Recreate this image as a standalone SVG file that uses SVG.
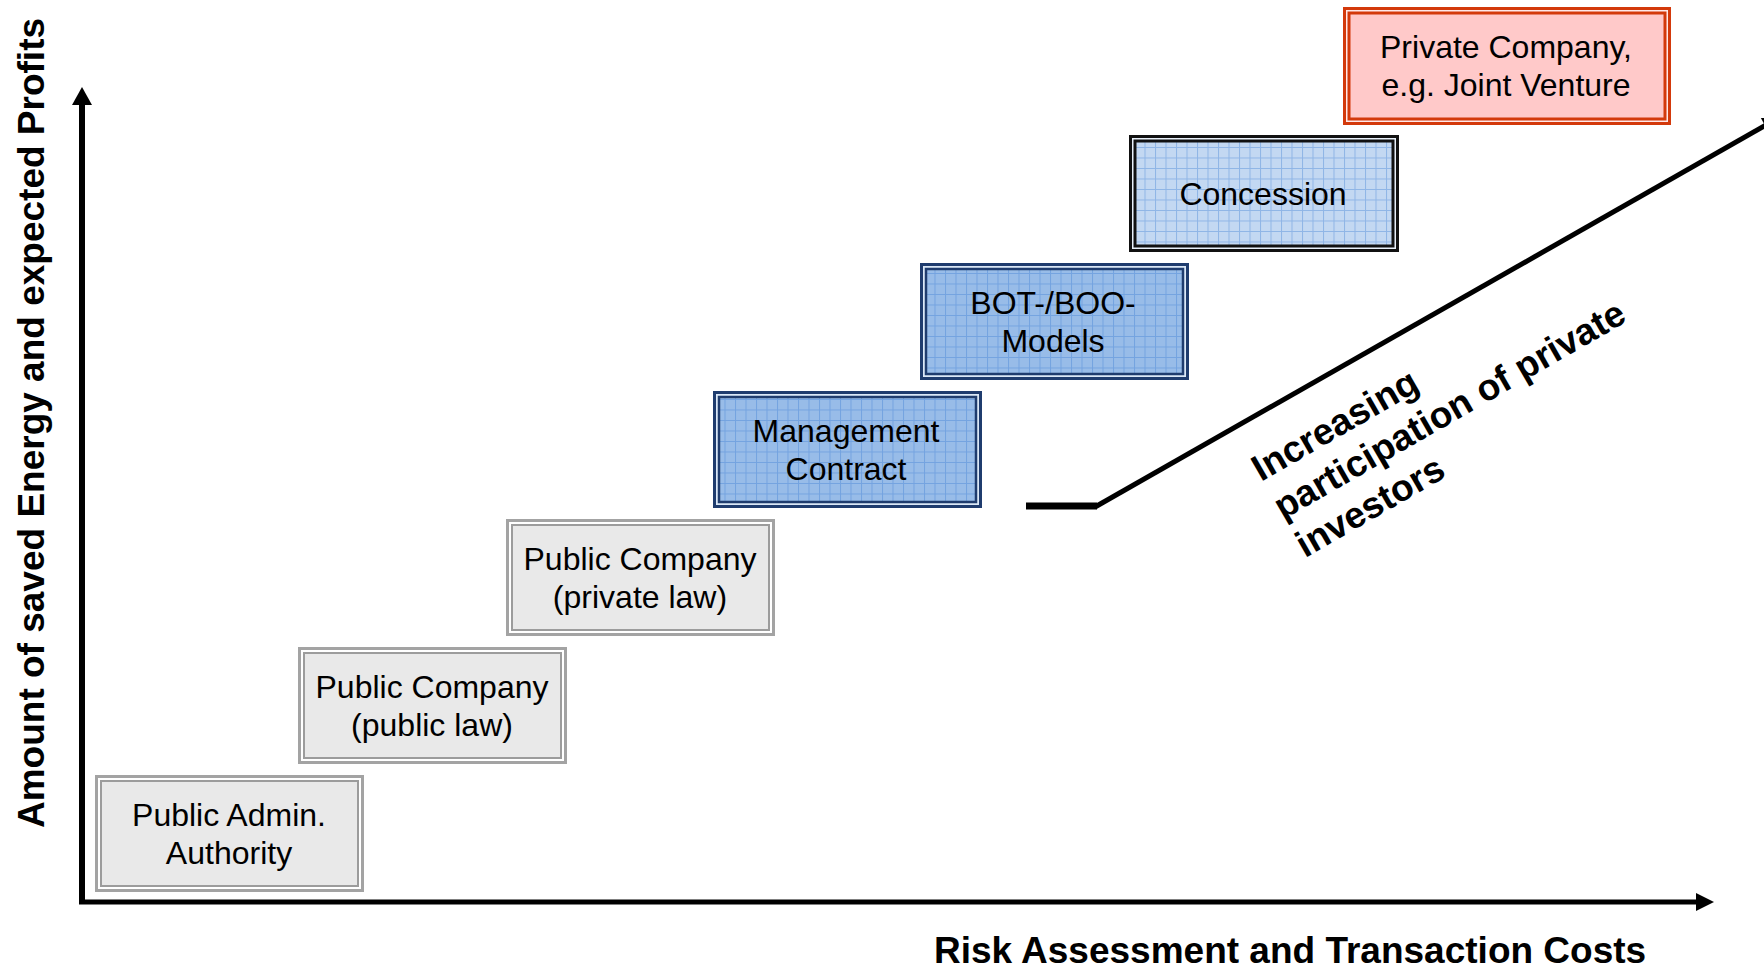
<svg xmlns="http://www.w3.org/2000/svg" width="1764" height="969" viewBox="0 0 1764 969">
<style>
  text { font-family: "Liberation Sans", Arial, sans-serif; fill: #000; }
  .bt { font-size: 32px; text-anchor: middle; }
  .lab { font-size: 37px; font-weight: bold; }
  .gap { fill: #ffffff; stroke-width: 3; }
  .gray .gap { stroke: #a3a3a3; }
  .gray .in { fill: #e9e9e9; stroke: #9c9c9c; stroke-width: 2; }
  .navy .gap { stroke: #1f3c6e; fill: #dbe8f7; }
  .navy .in { fill: url(#gridB); stroke: #1f3c6e; stroke-width: 2.5; }
  .blk .gap { stroke: #111; fill: #e8f0fa; }
  .blk .in { fill: url(#gridC); stroke: #111; stroke-width: 3; }
  .red .gap { stroke: #d3390b; fill: #ffe8e8; }
  .red .in { fill: #ffc9c9; stroke: #d3390b; stroke-width: 3; }
</style>
<defs>
  <pattern id="gridB" width="10.5" height="10.5" patternUnits="userSpaceOnUse">
    <rect width="10.5" height="10.5" fill="#98bce8"/>
    <path d="M0 0.5H10.5M0.5 0V10.5" stroke="#74a3e0" stroke-width="1"/>
  </pattern>
  <pattern id="gridC" width="10.5" height="10.5" patternUnits="userSpaceOnUse">
    <rect width="10.5" height="10.5" fill="#c3d8f2"/>
    <path d="M0 0.5H10.5M0.5 0V10.5" stroke="#8fb5e6" stroke-width="1"/>
  </pattern>
</defs>

<g id="connectors">
  <line x1="82" y1="902" x2="82" y2="100" stroke="#000" stroke-width="6"/>
  <polygon points="82,87 72,105 92,105" fill="#000"/>
  <line x1="79" y1="902" x2="1700" y2="902" stroke="#000" stroke-width="5"/>
  <polygon points="1714,902 1696,893 1696,911" fill="#000"/>
  <line x1="1026" y1="506" x2="1097" y2="506" stroke="#000" stroke-width="7"/>
  <line x1="1095" y1="507" x2="1766" y2="125" stroke="#000" stroke-width="5"/>
  <polygon points="1781,116.5 1760.6,117.6 1769.4,133.2" fill="#000"/>
</g>

<g id="axis-y-label">
  <text class="lab" transform="translate(44,423) rotate(-90)" text-anchor="middle">Amount of saved Energy and expected Profits</text>
</g>
<g id="axis-x-label">
  <text class="lab" x="934" y="963">Risk Assessment and Transaction Costs</text>
</g>

<g id="node-public-admin" class="gray">
  <rect class="gap" x="96.5" y="776.5" width="266" height="114"/>
  <rect class="in" x="101" y="781" width="257" height="105"/>
  <text class="bt" x="229" y="826">Public Admin.</text>
  <text class="bt" x="229" y="864">Authority</text>
</g>
<g id="node-public-company-public" class="gray">
  <rect class="gap" x="299.5" y="648.5" width="266" height="114"/>
  <rect class="in" x="304" y="653" width="257" height="105"/>
  <text class="bt" x="432" y="698">Public Company</text>
  <text class="bt" x="432" y="736">(public law)</text>
</g>
<g id="node-public-company-private" class="gray">
  <rect class="gap" x="507.5" y="520.5" width="266" height="114"/>
  <rect class="in" x="512" y="525" width="257" height="105"/>
  <text class="bt" x="640" y="570">Public Company</text>
  <text class="bt" x="640" y="608">(private law)</text>
</g>
<g id="node-management" class="navy">
  <rect class="gap" x="714.5" y="392.5" width="266" height="114"/>
  <rect class="in" x="719" y="397" width="257" height="105"/>
  <text class="bt" x="846" y="442">Management</text>
  <text class="bt" x="846" y="480">Contract</text>
</g>
<g id="node-bot-boo" class="navy">
  <rect class="gap" x="921.5" y="264.5" width="266" height="114"/>
  <rect class="in" x="926" y="269" width="257" height="105"/>
  <text class="bt" x="1053" y="314">BOT-/BOO-</text>
  <text class="bt" x="1053" y="352">Models</text>
</g>
<g id="node-concession" class="blk">
  <rect class="gap" x="1130.5" y="136.5" width="267" height="114"/>
  <rect class="in" x="1135" y="141" width="258" height="105"/>
  <text class="bt" x="1263" y="205">Concession</text>
</g>
<g id="node-private-company" class="red">
  <rect class="gap" x="1344.5" y="8.5" width="325" height="115"/>
  <rect class="in" x="1349" y="13" width="316" height="106"/>
  <text class="bt" x="1506" y="58">Private Company,</text>
  <text class="bt" x="1506" y="96">e.g. Joint Venture</text>
</g>

<g id="label-increasing">
  <text class="lab" transform="translate(1261,482) rotate(-30)">
    <tspan x="0" y="0">Increasing</tspan>
    <tspan x="0" y="44">participation of private</tspan>
    <tspan x="0" y="88">investors</tspan>
  </text>
</g>
</svg>
